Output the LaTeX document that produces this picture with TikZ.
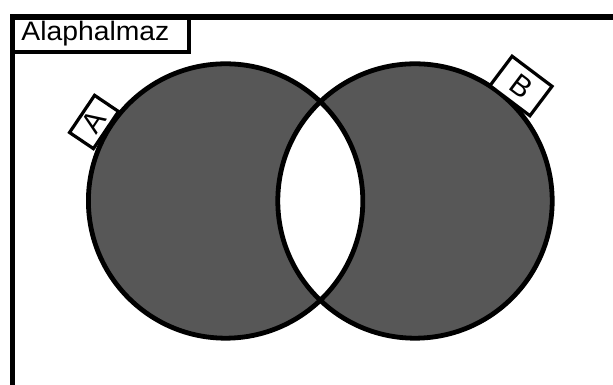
\documentclass[tikz,border=0pt]{standalone}
\usepackage{fontspec}
\setmainfont{Liberation Sans}
\usetikzlibrary{positioning}

\begin{document}
\begin{tikzpicture}[
  setline/.style={line width=1.2mm},
  setfill/.style={fill=black!66, even odd rule},
  tag/.style={draw, line width=0.8mm, fill=white, inner sep=0pt,
    font=\fontsize{21}{21}\selectfont},
  frame/.style={draw, line width=1.4mm, inner sep=0pt},
]
\clip (0,0) rectangle (15.325,9.625);

% === Universe (runs off the page on the right and at the bottom) ===
\node[frame, anchor=north west, minimum width=16cm, minimum height=10cm]
  (universe) at (0.24,9.275) {};
\node[frame, line width=0.9mm, anchor=north west, minimum width=4.44cm,
  minimum height=0.9cm, text width=3.94cm, inner xsep=0.22cm, align=left,
  font=\fontsize{19}{19}\selectfont]
  (title) at (universe.north west) {\scalebox{1.06}[1]{Alaphalmaz}};

% === Sets ===
\coordinate (cA) at (5.64,4.6);
\coordinate (cB) at (10.375,4.6);
\def\rad{3.43}

\fill[setfill] (cA) circle (\rad) (cB) circle (\rad);
\draw[setline] (cA) circle (\rad) (cB) circle (\rad);

% set names, tangent to the circles
\node[tag, minimum width=1.12cm, minimum height=0.72cm, rotate=56]
  (tagA) at (2.35,6.575) {A};
\node[tag, minimum width=1.25cm, minimum height=0.92cm, rotate=-37]
  (tagB) at (13.025,7.475) {B};

\end{tikzpicture}
\end{document}
